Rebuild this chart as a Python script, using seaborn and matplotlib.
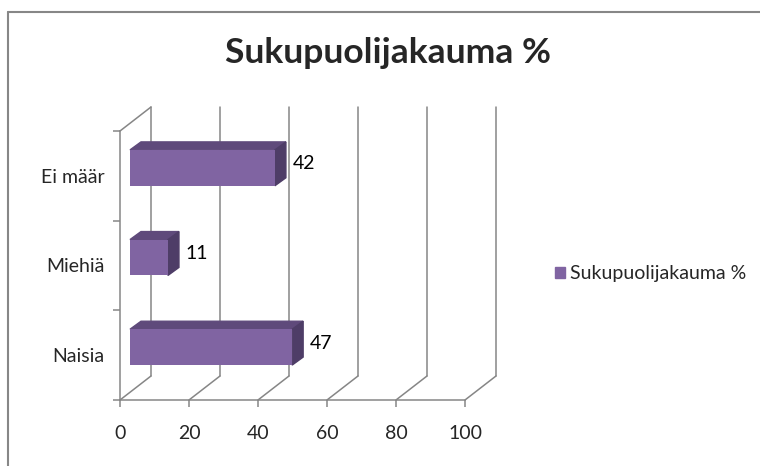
import numpy as np
import pandas as pd
import matplotlib
matplotlib.use("Agg")
import matplotlib.pyplot as plt
import matplotlib.transforms as mtransforms
from matplotlib.patches import Polygon, Patch
from matplotlib.lines import Line2D
import seaborn as sns

# data
categories = ["Ei määr", "Miehiä", "Naisia"]
values = [42, 11, 47]
series_name = "Sukupuolijakauma %"
title = "Sukupuolijakauma %"
x_ticks = [0, 20, 40, 60, 80, 100]

front_col = "#8064A2"
top_col = "#5F4A7B"
side_col = "#4E3D67"
grid_col = "#868686"

sns.set_theme(style="white")
plt.rcParams["font.family"] = ["Lato", "DejaVu Sans"]

fig = plt.figure(figsize=(7.6, 4.66), dpi=100)
ax = fig.add_axes([120 / 760, 66 / 466, 345 / 760, 269 / 466])

df = pd.DataFrame({"cat": categories, "val": values})
sns.barplot(data=df, x="val", y="cat", order=categories, orient="h",
            color=front_col, width=0.4, saturation=1, ax=ax, zorder=3)
ax.set_xlim(0, 100)
ax.set_ylim(2.5, -0.5)

# pixel -> data helpers for the fake 3d depth
px_x = ax.bbox.width / 100
px_y = ax.bbox.height / 3


def off(dx, dy):
    return dx / px_x, -dy / px_y


wall = off(31, 24)
bar_f = off(10, 8)
bar_b = off(21, 16)

# back wall gridlines + floor diagonals
for t in x_ticks:
    ax.plot([t + wall[0]] * 2, [2.5 + wall[1], -0.5 + wall[1]], color=grid_col,
            lw=1.1, zorder=1, clip_on=False)
    ax.plot([t, t + wall[0]], [2.5, 2.5 + wall[1]], color=grid_col,
            lw=1.1, zorder=1, clip_on=False)
ax.plot([0, wall[0]], [-0.5, -0.5 + wall[1]], color=grid_col, lw=1.1,
        zorder=1, clip_on=False)

# shift seaborn bars back into depth, add top and side faces
shift = mtransforms.offset_copy(ax.transData, fig=fig, x=10, y=8, units="dots")
for p in ax.patches:
    p.set_transform(shift)
    p.set_edgecolor("none")

for i, v in enumerate(values):
    y0, y1 = i - 0.2, i + 0.2
    top = [(0 + bar_f[0], y0 + bar_f[1]), (v + bar_f[0], y0 + bar_f[1]),
           (v + bar_b[0], y0 + bar_b[1]), (0 + bar_b[0], y0 + bar_b[1])]
    side = [(v + bar_f[0], y0 + bar_f[1]), (v + bar_f[0], y1 + bar_f[1]),
            (v + bar_b[0], y1 + bar_b[1]), (v + bar_b[0], y0 + bar_b[1])]
    ax.add_patch(Polygon(top, closed=True, color=top_col, zorder=2, clip_on=False))
    ax.add_patch(Polygon(side, closed=True, color=side_col, zorder=2, clip_on=False))
    lx, ly = off(28, 12)
    ax.text(v + lx, i + ly, str(v), va="center", ha="left", fontsize=14,
            color="#000000", zorder=5, clip_on=False)

# axes styling
for s in ["top", "right"]:
    ax.spines[s].set_visible(False)
for s in ["left", "bottom"]:
    ax.spines[s].set_color(grid_col)
    ax.spines[s].set_linewidth(1.1)
ax.set_xticks(x_ticks)
ax.set_yticks([0, 1, 2])
ax.set_yticks([-0.5, 0.5, 1.5, 2.5], minor=True)
ax.tick_params(axis="x", length=5, color=grid_col, width=1.1, labelsize=14, pad=13,
               bottom=True)
ax.tick_params(axis="y", which="major", length=0, labelsize=14, pad=11, left=True)
ax.tick_params(axis="y", which="minor", length=5, color=grid_col, width=1.1, left=True)
ax.set_xlabel("")
ax.set_ylabel("")
ax.grid(False)
ax.set_facecolor("none")

fig.text(388 / 760, 1 - 53 / 466, title, ha="center", va="center",
         fontsize=25.5, fontweight="bold")

fig.legend(handles=[Patch(color=front_col, label=series_name)],
           loc="center left", bbox_to_anchor=(555 / 760, 1 - 274 / 466),
           frameon=False, fontsize=14, handlelength=0.5, handleheight=0.5,
           handletextpad=0.25, borderaxespad=0, borderpad=0)

# chart area border
fig.add_artist(Line2D([8 / 760, 8 / 760], [0, 1 - 12 / 466], color="#878787",
                      lw=1.5, transform=fig.transFigure))
fig.add_artist(Line2D([8 / 760, 1], [1 - 12 / 466, 1 - 12 / 466], color="#878787",
                      lw=1.5, transform=fig.transFigure))

fig.savefig("out.png", dpi=100)
